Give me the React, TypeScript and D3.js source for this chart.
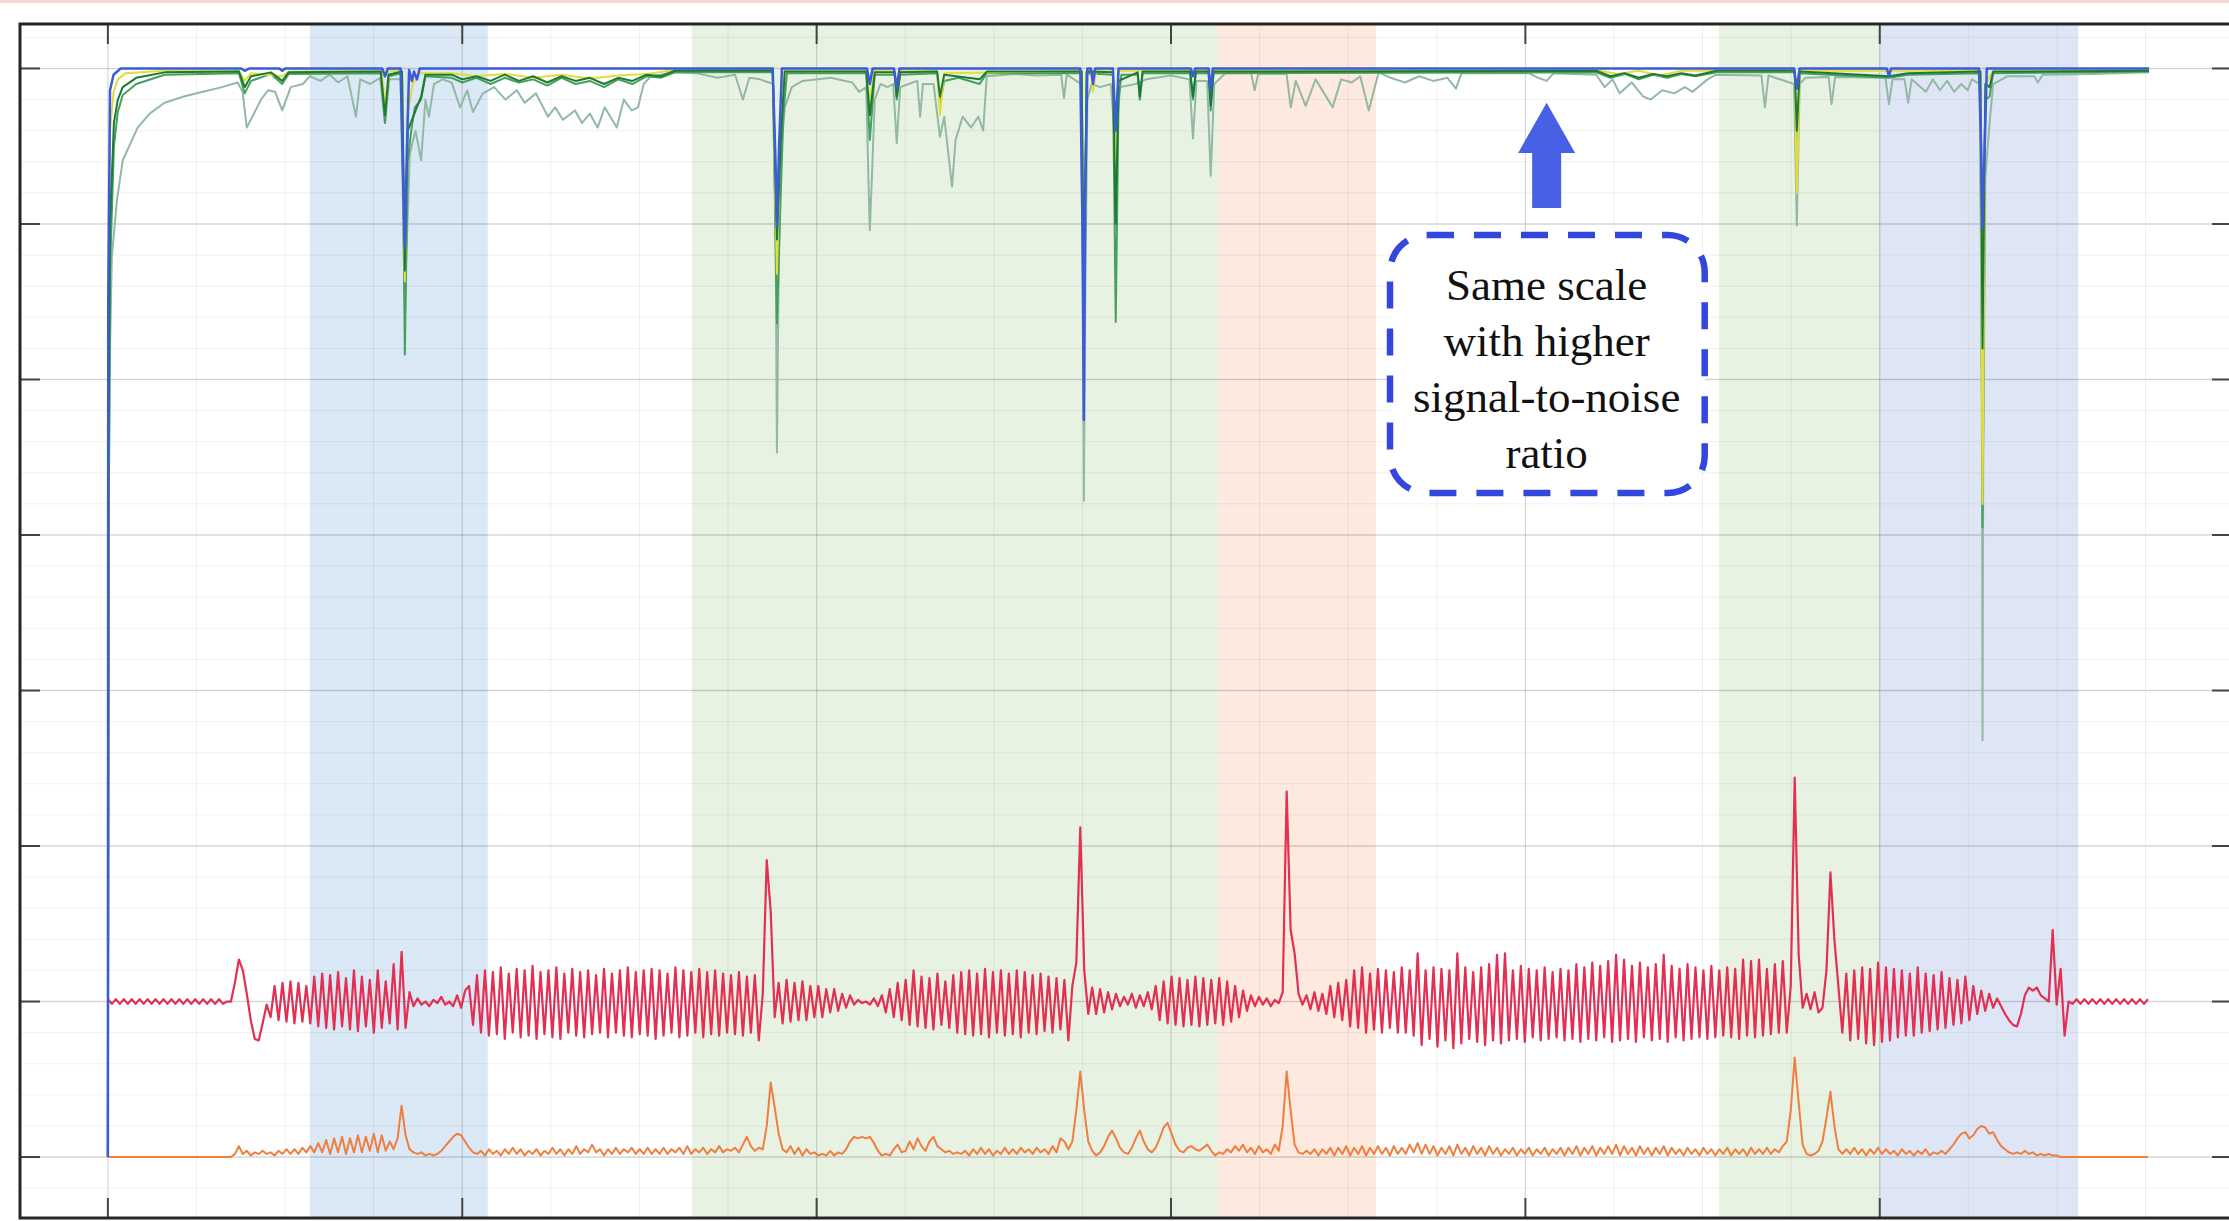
import React, { useRef, useEffect } from "react";
import * as d3 from "d3";

const width = 2229;
const height = 1221;

const xTicks = [0, 50, 100, 150, 200, 250];
const yTicks = [0, 1, 2, 3, 4, 5, 6, 7];

// shaded intervals (x units)
const bandRanges: [number, number][] = [
  [28.5, 53.6],
  [82.4, 156.6],
  [156.6, 178.9],
  [227.3, 249.9],
  [249.9, 278.0],
];
const bandColors = ["#dbe8f5", "#e8f2e2", "#fde9dd", "#e8f2e2", "#dee6f5"];

// red and orange traces are sampled every 0.56 x units, starting at x = 0
const sampleStep = 0.56;

const redValues = [
  1.015, 0.985, 1.015, 0.985, 1.015, 0.985, 1.015, 0.985, 1.015, 0.985, 1.015, 0.985, 1.015, 0.985,
  1.015, 0.985, 1.015, 0.985, 1.015, 0.985, 1.015, 0.985, 1.015, 0.985, 1.015, 0.985, 1.015, 0.985,
  1.015, 0.985, 1.0,
  1.0, 1.12, 1.27, 1.2, 1.05, 0.88, 0.76, 0.75,
  0.86, 0.98, 0.9, 1.1, 0.88, 1.12, 0.87, 1.13, 0.86, 1.12, 0.87, 1.1, 0.86,
  1.16, 0.84, 1.18, 0.83, 1.17, 0.82, 1.19, 0.84, 1.15, 0.82, 1.2, 0.81, 1.16, 0.84, 1.14, 0.8,
  1.2, 0.83, 1.13, 0.86, 1.24, 0.82,
  1.32, 0.83,
  1.06, 0.97, 1.02, 0.98, 1.0, 0.97, 1.01, 0.99, 1.03, 0.98, 1.0, 0.97, 1.04, 0.96, 1.07,
  1.1, 0.85, 1.17, 0.8, 1.2, 0.78, 1.19, 0.79, 1.22, 0.76,
  1.18, 0.8, 1.21, 0.77, 1.2, 0.78, 1.23, 0.76, 1.19, 0.79,
  1.2, 0.77, 1.22, 0.76, 1.18, 0.8, 1.21, 0.78, 1.19, 0.77,
  1.2, 0.79, 1.17, 0.8, 1.21, 0.77, 1.18, 0.8, 1.2, 0.78,
  1.22, 0.77, 1.19, 0.79, 1.2, 0.78, 1.21, 0.76, 1.2, 0.78,
  1.18, 0.8, 1.22, 0.77, 1.2, 0.78, 1.19, 0.8, 1.21, 0.77,
  1.19, 0.79, 1.2, 0.78, 1.18, 0.8, 1.17, 0.79, 1.19, 0.78,
  1.16, 0.8, 1.17, 0.75, 1.05,
  1.91, 1.58, 0.9, 1.12, 0.86, 1.14, 0.87, 1.12, 0.88, 1.13, 0.88, 1.1, 0.9, 1.1, 0.9, 1.08,
  0.93, 1.08, 0.94, 1.05, 0.96,
  1.04, 0.98, 1.01, 0.99, 1.0, 0.98, 1.02, 0.97, 1.04,
  0.93, 1.08, 0.9, 1.12, 0.88, 1.14, 0.85, 1.2, 0.84, 1.16,
  0.83, 1.15, 0.82, 1.18, 0.85, 1.13, 0.83, 1.17, 0.8, 1.19,
  0.79, 1.2, 0.78, 1.18, 0.79, 1.21, 0.77, 1.19, 0.8, 1.2,
  0.78, 1.18, 0.79, 1.2, 0.77, 1.19, 0.8, 1.17, 0.79, 1.18,
  0.81, 1.16, 0.8, 1.15, 0.82, 1.14, 0.75, 1.1, 1.25,
  2.12, 1.2, 0.92, 1.09, 0.92, 1.08, 0.93, 1.06, 0.95, 1.05,
  0.97, 1.03, 0.98, 1.05, 0.96, 1.04, 0.97, 1.06, 0.95,
  1.1, 0.88, 1.13, 0.86, 1.16, 0.85, 1.15, 0.84, 1.14, 0.85,
  1.16, 0.84, 1.15, 0.85, 1.14, 0.86, 1.15, 0.85, 1.13, 0.87,
  1.1, 0.9, 1.07, 0.94, 1.04,
  0.97, 1.03, 0.98, 1.02, 0.97, 1.01, 0.99, 1.06,
  2.35, 1.46, 1.31, 1.05, 0.98, 1.04, 0.95, 1.06, 0.94, 1.05, 0.92, 1.1, 0.9, 1.12, 0.88, 1.14,
  0.84, 1.2, 0.83, 1.22, 0.8, 1.18, 0.82, 1.21, 0.8, 1.2, 0.83, 1.19, 0.8, 1.22, 0.8, 1.2, 0.78,
  1.31, 0.72, 1.2, 0.76, 1.22, 0.71, 1.21, 0.75, 1.2, 0.7,
  1.31, 0.73, 1.22, 0.76, 1.19, 0.74, 1.22, 0.72, 1.24, 0.75,
  1.3, 0.73, 1.31, 0.75, 1.2, 0.76, 1.23, 0.74, 1.21, 0.77,
  1.2, 0.75, 1.22, 0.76, 1.19, 0.77, 1.21, 0.75, 1.2, 0.76,
  1.24, 0.74, 1.22, 0.76, 1.25, 0.75, 1.23, 0.77, 1.26, 0.74,
  1.3, 0.75, 1.27, 0.76, 1.23, 0.74, 1.25, 0.77, 1.22, 0.75,
  1.24, 0.76, 1.3, 0.74, 1.23, 0.77, 1.21, 0.75, 1.24, 0.76,
  1.22, 0.77, 1.2, 0.76, 1.23, 0.77, 1.2, 0.78, 1.22, 0.77,
  1.21, 0.76, 1.27, 0.78, 1.26, 0.77, 1.27, 0.78, 1.21, 0.79,
  1.24, 0.8, 1.26, 0.8,
  1.1, 2.44, 1.3, 0.96, 1.05, 0.95, 1.06, 0.93, 0.96, 1.2, 1.83, 1.4, 1.1,
  0.8, 1.18, 0.75, 1.2, 0.76, 1.22, 0.73, 1.21, 0.72, 1.25,
  0.74, 1.22, 0.75, 1.21, 0.77, 1.2, 0.78, 1.18, 0.78, 1.22,
  0.8, 1.18, 0.81, 1.17, 0.82, 1.19, 0.83, 1.15, 0.85, 1.14,
  0.86, 1.16, 0.88,
  1.1, 0.92, 1.07, 0.94, 1.05, 0.96, 1.02,
  0.97, 0.92, 0.88, 0.85, 0.84,
  0.92, 1.04, 1.09, 1.07, 1.09, 1.04, 1.02,
  1.0, 1.46, 0.98, 1.21, 0.78, 1.0,
  0.985, 1.015, 0.985, 1.015, 0.985, 1.015, 0.985, 1.015, 0.985, 1.015,
  0.985, 1.015, 0.985, 1.015, 0.985, 1.015, 0.985, 1.015, 0.985, 1.015,
];

const orangeValues = [
  0, 0, 0, 0, 0, 0, 0, 0, 0, 0, 0, 0, 0, 0, 0, 0, 0, 0, 0, 0, 0, 0, 0, 0, 0, 0, 0, 0, 0, 0, 0,
  0.0, 0.02, 0.07, 0.02, 0.04, 0.01, 0.03, 0.02, 0.04, 0.02, 0.03, 0.01, 0.04, 0.02, 0.05, 0.02,
  0.05, 0.02, 0.06, 0.03, 0.07,
  0.03, 0.09, 0.03, 0.11, 0.02, 0.12, 0.03, 0.13, 0.02, 0.12, 0.03, 0.14, 0.03, 0.13, 0.04, 0.15,
  0.03, 0.14, 0.04, 0.1, 0.05,
  0.12, 0.33, 0.14, 0.05,
  0.03, 0.02, 0.03, 0.01, 0.02, 0.01, 0.02,
  0.04, 0.07, 0.1, 0.13, 0.15, 0.14, 0.1, 0.06, 0.03, 0.02,
  0.04, 0.01, 0.05, 0.02, 0.04, 0.01, 0.05, 0.02, 0.06, 0.02,
  0.05, 0.01, 0.04, 0.02, 0.05, 0.01, 0.04, 0.02, 0.06, 0.02,
  0.05, 0.01, 0.05, 0.02, 0.07, 0.02, 0.05, 0.03, 0.08, 0.03,
  0.05, 0.01, 0.05, 0.02, 0.06, 0.02, 0.05, 0.03, 0.06, 0.02,
  0.05, 0.02, 0.06, 0.02, 0.05, 0.02, 0.06, 0.02, 0.05, 0.03,
  0.06, 0.02, 0.07, 0.02, 0.05, 0.03, 0.06, 0.02, 0.05, 0.03,
  0.07, 0.03, 0.05, 0.04, 0.06, 0.03, 0.08, 0.13, 0.07, 0.04,
  0.06, 0.05,
  0.2, 0.48, 0.32, 0.15, 0.05,
  0.03, 0.07, 0.02, 0.06, 0.01, 0.05, 0.02, 0.03, 0.01, 0.02, 0.01, 0.04, 0.01, 0.03, 0.02, 0.05,
  0.1, 0.13, 0.12, 0.13, 0.12, 0.13, 0.09,
  0.04, 0.01, 0.02, 0.01, 0.05,
  0.08, 0.03, 0.04, 0.1, 0.05, 0.12, 0.07, 0.04, 0.1, 0.13, 0.07, 0.05, 0.03, 0.04, 0.02, 0.03,
  0.02, 0.04, 0.01, 0.05, 0.02, 0.06, 0.02, 0.05, 0.01, 0.04,
  0.02, 0.06, 0.02, 0.05, 0.02, 0.06, 0.03, 0.05, 0.02, 0.06,
  0.03, 0.05, 0.02, 0.07, 0.03, 0.12, 0.1,
  0.05, 0.1, 0.3, 0.55, 0.3, 0.1,
  0.04, 0.01, 0.03, 0.07, 0.13, 0.17, 0.12, 0.06, 0.03, 0.02,
  0.06, 0.12, 0.17, 0.1, 0.05, 0.03, 0.06, 0.12, 0.19, 0.22,
  0.15, 0.08, 0.04, 0.03, 0.06, 0.07, 0.05, 0.04, 0.06, 0.08,
  0.04, 0.01, 0.03, 0.02, 0.05, 0.03, 0.07, 0.04, 0.08, 0.03,
  0.06, 0.02, 0.07, 0.03, 0.05, 0.02, 0.08, 0.04,
  0.2, 0.55, 0.3, 0.08,
  0.03, 0.02, 0.04, 0.02, 0.05, 0.01, 0.05, 0.02, 0.06, 0.01,
  0.06, 0.02, 0.07, 0.01, 0.06, 0.02, 0.07, 0.01, 0.06, 0.02,
  0.07, 0.02, 0.06, 0.01, 0.07, 0.02, 0.06, 0.02, 0.08, 0.03,
  0.09, 0.02, 0.08, 0.02, 0.07, 0.01, 0.06, 0.02, 0.07, 0.01,
  0.08, 0.02, 0.06, 0.01, 0.07, 0.02, 0.06, 0.01, 0.07, 0.02,
  0.06, 0.01, 0.05, 0.02, 0.06, 0.01, 0.05, 0.02, 0.06, 0.01,
  0.05, 0.02, 0.06, 0.01, 0.05, 0.02, 0.06, 0.01, 0.06, 0.02,
  0.07, 0.01, 0.06, 0.02, 0.07, 0.01, 0.06, 0.02, 0.07, 0.02,
  0.08, 0.01, 0.07, 0.02, 0.06, 0.01, 0.07, 0.02, 0.06, 0.01,
  0.06, 0.02, 0.07, 0.01, 0.06, 0.02, 0.05, 0.01, 0.06, 0.02,
  0.05, 0.01, 0.06, 0.02, 0.05, 0.01, 0.05, 0.02, 0.06, 0.01,
  0.05, 0.02, 0.05, 0.01, 0.06, 0.02, 0.05, 0.02, 0.06, 0.02,
  0.05, 0.03, 0.07, 0.1,
  0.3, 0.64, 0.35, 0.08, 0.02, 0.01, 0.02, 0.04, 0.1, 0.25, 0.42, 0.2, 0.05,
  0.02, 0.05, 0.02, 0.06, 0.02, 0.05, 0.01, 0.05, 0.02, 0.06,
  0.02, 0.05, 0.02, 0.04, 0.01, 0.05, 0.02, 0.04, 0.01, 0.04,
  0.02, 0.05, 0.01, 0.03, 0.02, 0.04, 0.02, 0.05,
  0.08, 0.12, 0.15, 0.16, 0.12, 0.14, 0.18, 0.2, 0.19, 0.15, 0.16, 0.11, 0.07, 0.05, 0.03, 0.02,
  0.03, 0.02, 0.04, 0.02, 0.03, 0.01, 0.02, 0.01, 0.02, 0.01, 0.01,
  0, 0, 0, 0, 0, 0, 0, 0, 0, 0, 0, 0, 0, 0, 0, 0, 0, 0, 0, 0, 0, 0, 0,
];

// upper traces as [x, value] pairs
const grayLine: [number, number][] = [
  [0, 0], [0.1, 4.0], [0.3, 5.2], [0.56, 5.79], [1.27, 6.15], [2.1, 6.41], [3.2, 6.52], [4.2, 6.62],
  [5.9, 6.71], [8.0, 6.78], [10.7, 6.82], [13.4, 6.85], [16.1, 6.88], [18.3, 6.91], [19.0, 6.85],
  [19.6, 6.62], [20.5, 6.7], [21.6, 6.8], [22.6, 6.86], [23.6, 6.85], [24.6, 6.73], [25.8, 6.88],
  [27.5, 6.9], [28.5, 6.95], [30, 6.92], [31.3, 6.96], [32.5, 6.91], [33.8, 6.95], [35.0, 6.69],
  [35.6, 6.93], [37, 6.9], [38.4, 6.94], [39.1, 6.65], [39.7, 6.93], [41.3, 6.93], [41.9, 5.5],
  [42.6, 6.45], [43.4, 6.6], [44.2, 6.41], [44.8, 6.8], [45.3, 6.69], [46, 6.9], [47.2, 6.93],
  [48.5, 6.91], [49.7, 6.75], [50.7, 6.86], [51.5, 6.72], [52.9, 6.84], [54.5, 6.88], [56.1, 6.8],
  [57.7, 6.86], [58.8, 6.78], [60.4, 6.84], [62.1, 6.69], [63.1, 6.75], [64.2, 6.67], [65.9, 6.73],
  [66.9, 6.65], [68.0, 6.71], [69.1, 6.62], [70.1, 6.75], [71.8, 6.62], [72.8, 6.8], [73.9, 6.73],
  [74.8, 6.75], [75.6, 6.9], [76.6, 6.95], [79.9, 6.975], [83, 6.97], [86, 6.94], [88.5, 6.96],
  [89.6, 6.8], [90.5, 6.94], [92, 6.93], [93.9, 6.9], [94.2, 6.0], [94.4, 4.53], [94.6, 5.5],
  [94.9, 6.4], [95.5, 6.75], [96.5, 6.88], [98, 6.92], [102, 6.94], [105, 6.91], [106, 6.85],
  [107.0, 6.88], [107.3, 6.3], [107.5, 5.96], [107.8, 6.3], [108.2, 6.8], [109, 6.9], [110, 6.88],
  [110.8, 6.9], [111.3, 6.52], [111.8, 6.88], [113, 6.9], [114.2, 6.92], [114.6, 6.69], [115, 6.9],
  [116.5, 6.9], [117.4, 6.56], [118, 6.69], [119.1, 6.24], [119.6, 6.54], [120.6, 6.69],
  [121.8, 6.62], [122.8, 6.69], [123.5, 6.6], [124, 6.95], [128, 6.965], [131, 6.955], [134.5, 6.96],
  [134.9, 6.81], [135.3, 6.96], [137.3, 6.9], [137.6, 5.5], [137.7, 4.22], [137.9, 5.5], [138.2, 6.8],
  [138.8, 6.9], [140, 6.88], [141.5, 6.9], [142.2, 6.5], [142.8, 6.88], [145, 6.9], [146.5, 6.93],
  [150, 6.955], [152.6, 6.93], [153.1, 6.55], [153.6, 6.92], [155.1, 6.92], [155.6, 6.31],
  [156.1, 6.9], [157.7, 6.97], [161.3, 6.97], [161.8, 6.86], [162.3, 6.965], [166.3, 6.965],
  [166.9, 6.75], [167.6, 6.92], [169, 6.76], [170.4, 6.93], [172.8, 6.75], [174, 6.93],
  [175.5, 6.91], [176.7, 6.95], [177.9, 6.73], [179.3, 6.975], [181, 6.94], [183, 6.91], [185, 6.95],
  [187, 6.92], [189, 6.94], [190.2, 6.87], [191, 6.97], [200.5, 6.97], [201.8, 6.94], [203, 6.92],
  [204, 6.97], [210, 6.96], [211.2, 6.88], [212.3, 6.93], [213.3, 6.84], [215, 6.91], [216.6, 6.82],
  [217.7, 6.8], [219.3, 6.86], [221, 6.84], [222.5, 6.88], [223.6, 6.85], [225.7, 6.93],
  [226.9, 6.96], [233.3, 6.955], [233.8, 6.75], [234.3, 6.955], [237.9, 6.9], [238.3, 5.99],
  [238.7, 6.9], [239.5, 6.94], [242.8, 6.945], [243.2, 6.77], [243.7, 6.945], [250.8, 6.94],
  [251.3, 6.77], [251.8, 6.93], [253.5, 6.93], [254, 6.78], [254.5, 6.93], [256.5, 6.85],
  [257.5, 6.93], [258.5, 6.86], [259.5, 6.92], [260.5, 6.85], [261.5, 6.9], [262.4, 6.86],
  [263, 6.93], [264.1, 6.9], [264.4, 5.0], [264.5, 2.68], [264.6, 4.5], [264.9, 6.3], [265.5, 6.65],
  [266, 6.9], [268, 6.95], [271.8, 6.95], [272.3, 6.91], [273, 6.96], [280, 6.965], [288, 6.975],
];

const greenLine: [number, number][] = [
  [0, 0], [0.1, 4.0], [0.3, 5.7], [0.85, 6.5], [1.4, 6.72], [2.1, 6.83], [4, 6.9], [8, 6.96],
  [18.5, 6.97], [19.3, 6.84], [20.2, 6.92], [23, 6.965], [24.6, 6.9], [25.5, 6.965], [38.5, 6.97],
  [39.1, 6.65], [39.6, 6.95], [41.5, 6.97], [41.9, 5.16], [42.3, 6.4], [42.8, 6.6], [43.3, 6.75],
  [44.2, 6.8], [44.8, 6.95], [48.5, 6.94], [50, 6.91], [52, 6.94], [54, 6.9], [56, 6.94], [58, 6.91],
  [60, 6.93], [62, 6.89], [64, 6.94], [66, 6.9], [68, 6.92], [70, 6.88], [72, 6.93], [74, 6.9],
  [76, 6.95], [78, 6.94], [80, 6.975], [93.8, 6.975], [94.4, 5.36], [94.8, 6.0], [95.3, 6.7],
  [95.8, 6.97], [107, 6.97], [107.5, 6.54], [108.2, 6.96], [111, 6.96], [111.3, 6.8], [111.8, 6.96],
  [117, 6.97], [117.4, 6.78], [118, 6.92], [120, 6.94], [123, 6.9], [124, 6.97], [137.4, 6.97],
  [137.7, 5.1], [138.1, 6.97], [141.8, 6.96], [142.2, 5.37], [142.6, 6.8], [143, 6.96], [145.3, 6.96],
  [145.6, 6.8], [146, 6.97], [152.7, 6.97], [153.1, 6.8], [153.5, 6.97], [155.3, 6.97], [155.6, 6.73],
  [156, 6.97], [210, 6.975], [212, 6.94], [214, 6.965], [216, 6.93], [218, 6.96], [220, 6.94],
  [222, 6.965], [224, 6.95], [227, 6.975], [238, 6.975], [238.3, 6.47], [238.7, 6.97], [251.3, 6.94],
  [254, 6.96], [264.2, 6.97], [264.5, 4.05], [264.9, 6.8], [265.5, 6.82], [266, 6.97], [288, 6.98],
];

const yellowLine: [number, number][] = [
  [0, 0], [0.1, 5.5], [0.3, 6.6], [0.8, 6.85], [1.4, 6.93], [2.5, 6.97], [8, 6.985], [18.5, 6.985],
  [19.3, 6.92], [20.2, 6.97], [24.6, 6.95], [25.5, 6.98], [38.6, 6.985], [39.1, 6.75], [39.6, 6.98],
  [41.5, 6.985], [41.9, 5.63], [42.3, 6.7], [43, 6.9], [44, 6.97], [48.5, 6.97], [52, 6.95],
  [56, 6.965], [60, 6.94], [64, 6.96], [68, 6.935], [72, 6.955], [76, 6.965], [80, 6.99], [93.8, 6.99],
  [94.4, 5.68], [95, 6.8], [95.5, 6.985], [107, 6.985], [107.5, 6.78], [108.1, 6.985], [111, 6.98],
  [111.3, 6.85], [111.8, 6.985], [117, 6.985], [117.4, 6.7], [118, 6.97], [137.4, 6.985], [137.7, 5.3],
  [138.1, 6.985], [138.7, 6.985], [139.0, 6.85], [139.4, 6.985], [141.8, 6.98], [142.2, 6.26],
  [142.6, 6.985], [210, 6.99], [213, 6.965], [216, 6.985], [219, 6.955], [222, 6.985], [238, 6.985],
  [238.3, 6.2], [238.7, 6.985], [264.2, 6.985], [264.5, 4.2], [264.9, 6.9], [266, 6.985], [288, 6.99],
];

const darkGreenLine: [number, number][] = [
  [0, 0], [0.1, 4.5], [0.3, 6.0], [0.85, 6.65], [1.4, 6.8], [2.1, 6.88], [4, 6.94], [8, 6.975],
  [18.5, 6.98], [19.3, 6.88], [20.2, 6.95], [23, 6.975], [24.6, 6.92], [25.5, 6.975], [38.5, 6.98],
  [39.1, 6.7], [39.6, 6.96], [41.5, 6.98], [41.9, 5.7], [42.3, 6.6], [44.2, 6.82], [44.8, 6.96],
  [48.5, 6.96], [50, 6.93], [52, 6.95], [54, 6.92], [56, 6.96], [58, 6.92], [60, 6.95], [62, 6.91],
  [64, 6.95], [66, 6.92], [68, 6.94], [70, 6.9], [72, 6.94], [74, 6.92], [76, 6.96], [78, 6.95],
  [80, 6.985], [93.8, 6.985], [94.4, 5.9], [95, 6.6], [95.5, 6.98], [107, 6.98], [107.5, 6.7],
  [108.2, 6.975], [111, 6.975], [111.3, 6.82], [111.8, 6.975], [117, 6.98], [117.4, 6.82],
  [118, 6.96], [123, 6.93], [124, 6.98], [137.4, 6.98], [137.7, 5.5], [138.1, 6.98], [141.8, 6.975],
  [142.2, 6.0], [142.6, 6.92], [145.3, 6.975], [145.6, 6.82], [146, 6.98], [152.7, 6.98],
  [153.1, 6.82], [153.5, 6.98], [155.3, 6.98], [155.6, 6.76], [156, 6.98], [210, 6.985],
  [212, 6.95], [214, 6.97], [216, 6.94], [218, 6.965], [220, 6.95], [222, 6.97], [224, 6.955],
  [227, 6.985], [238, 6.985], [238.3, 6.6], [238.7, 6.98], [251.3, 6.95], [254, 6.97], [264.2, 6.98],
  [264.5, 5.2], [264.9, 6.9], [265.5, 6.88], [266, 6.98], [288, 6.985],
];

const blueLine: [number, number][] = [
  [0, 0], [0.05, 5.5], [0.3, 6.86], [0.8, 6.96], [1.8, 7.0], [18.8, 7.0], [19.3, 6.985], [20, 7.0],
  [24.2, 7.0], [24.6, 6.985], [25, 7.0], [38.7, 7.0], [39.1, 6.95], [39.5, 7.0], [41.3, 7.0],
  [41.7, 6.2], [41.9, 5.85], [42.2, 6.5], [42.5, 6.99], [42.9, 6.92], [43.2, 6.98], [43.6, 6.93],
  [44.0, 7.0], [93.8, 7.0], [94.2, 6.4], [94.4, 5.98], [94.7, 6.5], [95.1, 7.0], [107.1, 7.0],
  [107.5, 6.9], [107.9, 7.0], [110.9, 7.0], [111.3, 6.88], [111.7, 7.0], [137.2, 7.0], [137.5, 6.0],
  [137.7, 4.74], [137.9, 6.2], [138.2, 7.0], [138.7, 7.0], [139.0, 6.9], [139.3, 7.0], [141.8, 7.0],
  [142.2, 6.6], [142.6, 7.0], [152.8, 7.0], [153.1, 6.95], [153.4, 7.0], [155.3, 7.0], [155.6, 6.86],
  [155.9, 7.0], [237.9, 7.0], [238.3, 6.87], [238.7, 7.0], [251, 7.0], [251.3, 6.95], [251.6, 7.0],
  [264.0, 7.0], [264.3, 6.5], [264.5, 5.97], [264.8, 6.5], [265.1, 7.0], [288, 7.0],
];

const noteLines = ["Same scale", "with higher", "signal-to-noise", "ratio"];

export default function App() {
  const svgRef = useRef<SVGSVGElement>(null);

  useEffect(() => {
    const svg = d3.select(svgRef.current).attr("width", width).attr("height", height);
    svg.selectAll("*").remove();

    const x = d3.scaleLinear().domain([-12.4, 299.7]).range([20, 2232]);
    const y = d3.scaleLinear().domain([-0.392, 7.286]).range([1218, 24]);
    const [left, right] = x.range();
    const [bottom, top] = y.range();

    svg.append("rect").attr("width", width).attr("height", height).attr("fill", "#fff");
    svg.append("rect").attr("width", width).attr("height", 3).attr("fill", "#f8d6d6");

    svg.append("defs").append("clipPath").attr("id", "plot-area")
      .append("rect")
      .attr("x", left).attr("y", top)
      .attr("width", right - left).attr("height", bottom - top);

    const plot = svg.append("g").attr("clip-path", "url(#plot-area)");

    // shaded intervals
    plot.selectAll(".band")
      .data(bandRanges)
      .enter()
      .append("rect")
      .attr("x", d => x(d[0]))
      .attr("width", d => x(d[1]) - x(d[0]))
      .attr("y", top)
      .attr("height", bottom - top)
      .attr("fill", (_, i) => bandColors[i]);

    // grid
    const minorX = d3.range(-12.5, 300.1, 12.5);
    const minorY = d3.range(-2, 37).map(k => k * 0.2);
    plot.selectAll(".minor-x").data(minorX).enter().append("line")
      .attr("x1", d => x(d)).attr("x2", d => x(d)).attr("y1", top).attr("y2", bottom)
      .attr("stroke", "#000").attr("stroke-opacity", 0.06).attr("stroke-width", 1);
    plot.selectAll(".minor-y").data(minorY).enter().append("line")
      .attr("x1", left).attr("x2", right).attr("y1", d => y(d)).attr("y2", d => y(d))
      .attr("stroke", "#000").attr("stroke-opacity", 0.06).attr("stroke-width", 1);
    plot.selectAll(".major-x").data(xTicks).enter().append("line")
      .attr("x1", d => x(d)).attr("x2", d => x(d)).attr("y1", top).attr("y2", bottom)
      .attr("stroke", "#000").attr("stroke-opacity", 0.1).attr("stroke-width", 1.3);
    plot.selectAll(".major-y").data(yTicks).enter().append("line")
      .attr("x1", left).attr("x2", right).attr("y1", d => y(d)).attr("y2", d => y(d))
      .attr("stroke", "#000").attr("stroke-opacity", 0.12).attr("stroke-width", 1.5);

    const line = d3.line<[number, number]>()
      .x(d => x(d[0]))
      .y(d => y(d[1]));

    const sampled = (vals: number[]): [number, number][] =>
      vals.map((v, i) => [i * sampleStep, v]);

    const drawLine = (data: [number, number][], color: string, w: number) => {
      plot.append("path")
        .datum(data)
        .attr("fill", "none")
        .attr("stroke", color)
        .attr("stroke-width", w)
        .attr("stroke-linejoin", "round")
        .attr("d", line);
    };

    drawLine(sampled(orangeValues), "#ef7f40", 2);
    drawLine(sampled(redValues), "#e22f52", 2.2);
    drawLine(grayLine, "#93b8a6", 2);
    drawLine(greenLine, "#45a05d", 2);
    drawLine(yellowLine, "#e4dc3c", 2);
    drawLine(darkGreenLine, "#1c7a36", 2);
    drawLine(blueLine, "#3c5bd8", 2.5);

    // axes box and ticks
    const tickLen = 20;
    const ticks = svg.append("g").attr("stroke", "#444").attr("stroke-width", 2);
    ticks.selectAll(".yl").data(yTicks).enter().append("line")
      .attr("x1", left).attr("x2", left + tickLen).attr("y1", d => y(d)).attr("y2", d => y(d));
    ticks.selectAll(".yr").data(yTicks).enter().append("line")
      .attr("x1", right - tickLen).attr("x2", right).attr("y1", d => y(d)).attr("y2", d => y(d));
    ticks.selectAll(".xt").data(xTicks).enter().append("line")
      .attr("x1", d => x(d)).attr("x2", d => x(d)).attr("y1", top).attr("y2", top + tickLen);
    ticks.selectAll(".xb").data(xTicks).enter().append("line")
      .attr("x1", d => x(d)).attr("x2", d => x(d)).attr("y1", bottom - tickLen).attr("y2", bottom);

    svg.append("rect")
      .attr("x", left).attr("y", top)
      .attr("width", right - left).attr("height", bottom - top)
      .attr("fill", "none").attr("stroke", "#262626").attr("stroke-width", 3);

    // annotation
    const noteX = x(203.0);
    const tipY = y(6.78);
    const headY = y(6.457);
    const shaftY = y(6.103);
    svg.append("path")
      .attr("d", `M${noteX},${tipY} L${noteX + 28.5},${headY} L${noteX + 14.5},${headY} L${noteX + 14.5},${shaftY} L${noteX - 14.5},${shaftY} L${noteX - 14.5},${headY} L${noteX - 28.5},${headY} Z`)
      .attr("fill", "#4760e6");

    const bx0 = x(180.9), bx1 = x(225.3), by0 = y(5.929), by1 = y(4.27);
    svg.append("rect")
      .attr("x", bx0).attr("y", by0)
      .attr("width", bx1 - bx0).attr("height", by1 - by0)
      .attr("rx", 37).attr("ry", 37)
      .attr("fill", "#fff")
      .attr("stroke", "#3347dc")
      .attr("stroke-width", 6.5)
      .attr("stroke-dasharray", "27 20");

    const baselines = [5.511, 5.151, 4.791, 4.431];
    svg.append("g")
      .attr("font-family", "'Liberation Serif', 'Times New Roman', serif")
      .attr("font-size", 45)
      .attr("fill", "#111")
      .attr("text-anchor", "middle")
      .selectAll("text")
      .data(noteLines)
      .enter()
      .append("text")
      .attr("x", noteX)
      .attr("y", (_, i) => y(baselines[i]))
      .text(d => d);
  }, []);

  return <svg ref={svgRef} style={{ position: "absolute", left: 0, top: 0, display: "block" }} />;
}
